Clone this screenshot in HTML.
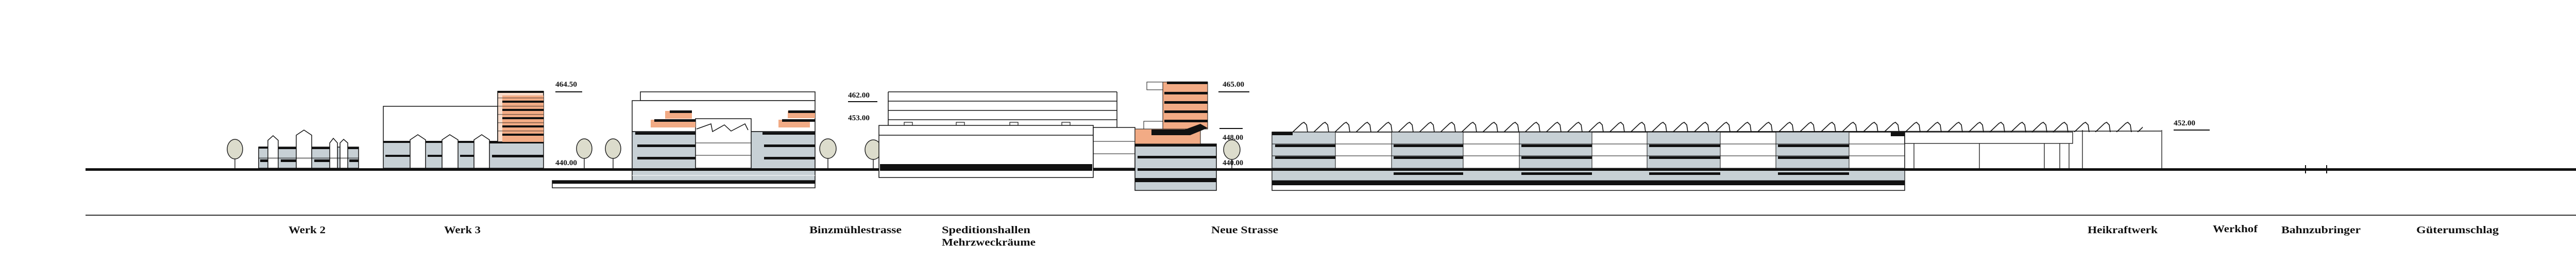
<!DOCTYPE html>
<html><head><meta charset="utf-8"><style>
html,body{margin:0;padding:0;background:#fff;}
svg{display:block;}
text{font-family:"Liberation Serif",serif;font-weight:bold;fill:#111;}
</style></head><body>
<svg width="5192" height="531" viewBox="0 0 5192 531" xmlns="http://www.w3.org/2000/svg">
<defs>
<pattern id="saw" x="2507" y="234" width="41" height="23" patternUnits="userSpaceOnUse">
<path d="M2 22 L20 5 L24 3 L29 8 L31 22" fill="none" stroke="#111" stroke-width="1.6"/>
</pattern>
</defs>
<rect width="5192" height="531" fill="#fff"/>

<!-- ground line -->
<rect x="166" y="326" width="5024" height="5" fill="#111"/>
<!-- bottom datum line -->
<rect x="166" y="416" width="5024" height="2" fill="#333"/>

<!-- trees -->
<g fill="#dcdccc" stroke="#222" stroke-width="1.5">
<ellipse cx="456" cy="289" rx="15" ry="19"/><line x1="456" y1="308" x2="456" y2="326"/>
<ellipse cx="1134" cy="288" rx="15" ry="19"/><line x1="1134" y1="307" x2="1134" y2="326"/>
<ellipse cx="1190" cy="288" rx="15" ry="19"/><line x1="1190" y1="307" x2="1190" y2="326"/>
<ellipse cx="1607" cy="288" rx="16" ry="19"/><line x1="1607" y1="307" x2="1607" y2="326"/>
<ellipse cx="1695" cy="290" rx="16" ry="19"/><line x1="1695" y1="309" x2="1695" y2="326"/>
<ellipse cx="2391" cy="290" rx="16" ry="19"/><line x1="2391" y1="309" x2="2391" y2="326"/>
</g>

<!-- Werk 2 -->
<g stroke="#111" stroke-width="1.5">
<rect x="502" y="285" width="194" height="41" fill="#c7d0d5"/>
<path d="M520 326 L520 272 L530 263 L540 272 L540 326 Z" fill="#fff"/>
<path d="M575 326 L575 262 L590 252 L605 262 L605 326 Z" fill="#fff"/>
<path d="M640 326 L640 277 L647 268 L655 277 L655 326 Z" fill="#fff"/>
<path d="M660 326 L660 277 L667 270 L675 277 L675 326 Z" fill="#fff"/>
</g>
<g fill="#111">
<rect x="502" y="284" width="18" height="4"/><rect x="540" y="285" width="35" height="4"/><rect x="605" y="285" width="35" height="4"/><rect x="675" y="285" width="21" height="4"/>
<rect x="502" y="305" width="194" height="3" opacity="0.4"/>
<rect x="505" y="309" width="15" height="5"/><rect x="545" y="309" width="30" height="5"/><rect x="610" y="309" width="30" height="5"/><rect x="678" y="309" width="18" height="5"/>
</g>

<!-- Werk 3 -->
<rect x="744" y="206" width="222" height="69" fill="#fff" stroke="#111" stroke-width="1.5"/>
<rect x="744" y="275" width="311" height="51" fill="#c7d0d5" stroke="#111" stroke-width="1.5"/>
<g fill="#fff" stroke="#111" stroke-width="1.5">
<path d="M796 326 L796 271 L811 261 L826 271 L826 326 Z"/>
<path d="M858 326 L858 271 L873 261 L889 271 L889 326 Z"/>
<path d="M920 326 L920 271 L935 261 L950 271 L950 326 Z"/>
</g>
<g fill="#111">
<rect x="744" y="273" width="52" height="4"/><rect x="826" y="273" width="32" height="4"/><rect x="889" y="273" width="31" height="4"/><rect x="950" y="273" width="105" height="5"/>
<rect x="748" y="300" width="48" height="4"/><rect x="830" y="300" width="28" height="4"/><rect x="893" y="300" width="27" height="4"/><rect x="955" y="300" width="100" height="5"/>
</g>
<rect x="966" y="177" width="89" height="98" fill="#f9dccb" stroke="#111" stroke-width="1.5"/>
<g fill="#f2ab85"><rect x="975" y="185" width="80" height="90"/></g>
<g fill="#111">
<rect x="966" y="176" width="89" height="4"/>
<rect x="975" y="195" width="80" height="4"/><rect x="975" y="211" width="80" height="4"/><rect x="975" y="227" width="80" height="4"/><rect x="975" y="243" width="80" height="4"/><rect x="975" y="259" width="80" height="4"/>
<rect x="966" y="189" width="89" height="1.5" opacity="0.5"/><rect x="966" y="205" width="89" height="1.5" opacity="0.5"/><rect x="966" y="221" width="89" height="1.5" opacity="0.5"/><rect x="966" y="237" width="89" height="1.5" opacity="0.5"/><rect x="966" y="253" width="89" height="1.5" opacity="0.5"/>
</g>
<text x="1078" y="168" font-size="15" textLength="42" lengthAdjust="spacingAndGlyphs">464.50</text>
<rect x="1078" y="177" width="52" height="2" fill="#111"/>
<text x="1078" y="320" font-size="15" textLength="42" lengthAdjust="spacingAndGlyphs">440.00</text>

<!-- underground box Binzmuehle -->
<rect x="1072" y="350" width="510" height="14" fill="#fff" stroke="#111" stroke-width="1.5"/>
<rect x="1072" y="350" width="510" height="6" fill="#111"/>

<!-- Binzmuehle building -->
<rect x="1243" y="178" width="339" height="17" fill="#fff" stroke="#111" stroke-width="1.5"/>
<rect x="1227" y="195" width="355" height="60" fill="#fff" stroke="#111" stroke-width="1.5"/>
<rect x="1227" y="255" width="355" height="95" fill="#c7d0d5" stroke="#111" stroke-width="1.5"/>
<rect x="1350" y="230" width="108" height="96" fill="#fff" stroke="#111" stroke-width="1.5"/>
<path d="M1352 250 L1380 240 L1383 255 L1406 242 L1419 254 L1446 240 L1452 252" fill="none" stroke="#111" stroke-width="1.5"/>
<line x1="1350" y1="277" x2="1458" y2="277" stroke="#111"/><line x1="1350" y1="301" x2="1458" y2="301" stroke="#111"/>
<rect x="1291" y="215" width="52" height="15" fill="#f2ab85"/><rect x="1263" y="232" width="87" height="15" fill="#f2ab85"/>
<rect x="1529" y="215" width="53" height="14" fill="#f2ab85"/><rect x="1511" y="232" width="61" height="15" fill="#f2ab85"/>
<g fill="#111">
<rect x="1300" y="214" width="43" height="5"/><rect x="1270" y="231" width="80" height="5"/>
<rect x="1530" y="214" width="52" height="5"/><rect x="1518" y="231" width="64" height="5"/>
<rect x="1233" y="256" width="117" height="5"/><rect x="1480" y="256" width="102" height="5"/>
<rect x="1237" y="280" width="113" height="5"/><rect x="1483" y="280" width="99" height="5"/>
<rect x="1237" y="304" width="113" height="5"/><rect x="1483" y="304" width="99" height="5"/>
<rect x="1227" y="326" width="355" height="5"/>
</g>
<line x1="1227" y1="340" x2="1582" y2="340" stroke="#fff" stroke-width="1"/>

<!-- Speditionshallen -->
<text x="1646" y="189" font-size="15" textLength="42" lengthAdjust="spacingAndGlyphs">462.00</text>
<rect x="1646" y="196" width="57" height="2" fill="#111"/>
<text x="1646" y="233" font-size="15" textLength="42" lengthAdjust="spacingAndGlyphs">453.00</text>
<g stroke="#111" stroke-width="1.5" fill="none">
<line x1="1724" y1="178" x2="2168" y2="178"/><line x1="1724" y1="196" x2="2168" y2="196"/>
<line x1="1724" y1="214" x2="2168" y2="214"/><line x1="1724" y1="232" x2="2168" y2="232"/>
<line x1="1724" y1="178" x2="1724" y2="243"/><line x1="2168" y1="178" x2="2168" y2="248"/>
</g>
<g fill="#fff" stroke="#111" stroke-width="1.2">
<rect x="1755" y="237" width="16" height="6"/><rect x="1856" y="237" width="16" height="6"/><rect x="1960" y="237" width="16" height="6"/><rect x="2061" y="237" width="16" height="6"/>
</g>
<rect x="1706" y="243" width="416" height="101" fill="#fff" stroke="#111" stroke-width="1.5"/>
<line x1="1706" y1="262" x2="2122" y2="262" stroke="#111" stroke-width="1.5"/>
<rect x="1708" y="318" width="412" height="13" fill="#111"/>
<rect x="2122" y="247" width="81" height="79" fill="#fff" stroke="#111" stroke-width="1.5"/>
<line x1="2122" y1="274" x2="2203" y2="274" stroke="#111"/><line x1="2122" y1="298" x2="2203" y2="298" stroke="#111"/>

<!-- Neue Strasse building -->
<rect x="2203" y="279" width="158" height="90" fill="#c7d0d5" stroke="#111" stroke-width="1.5"/>
<rect x="2203" y="250" width="127" height="29" fill="#f2ab85" stroke="#111" stroke-width="1"/>
<rect x="2257" y="159" width="87" height="91" fill="#f2ab85" stroke="#111" stroke-width="1"/>
<rect x="2226" y="159" width="31" height="15" fill="#fff" stroke="#111"/>
<rect x="2220" y="235" width="37" height="15" fill="#fff" stroke="#111"/>
<g fill="#111">
<rect x="2265" y="158" width="79" height="5"/><rect x="2260" y="178" width="84" height="5"/><rect x="2260" y="196" width="84" height="5"/><rect x="2260" y="214" width="84" height="5"/><rect x="2260" y="232" width="84" height="5"/>
<path d="M2235 251 L2300 251 L2330 240 L2344 248 L2310 262 L2235 262 Z"/>
<rect x="2203" y="279" width="158" height="5"/><rect x="2208" y="302" width="153" height="5"/><rect x="2208" y="326" width="153" height="5"/><rect x="2203" y="345" width="158" height="8"/>
</g>
<text x="2373" y="168" font-size="15" textLength="42" lengthAdjust="spacingAndGlyphs">465.00</text>
<rect x="2365" y="177" width="60" height="2" fill="#111"/>
<rect x="2367" y="248" width="45" height="2" fill="#111"/>
<text x="2373" y="271" font-size="15" textLength="40" lengthAdjust="spacingAndGlyphs">448.00</text>
<text x="2373" y="320" font-size="15" textLength="40" lengthAdjust="spacingAndGlyphs">440.00</text>

<!-- long building -->
<rect x="2507" y="234" width="1652" height="22" fill="url(#saw)"/>
<rect x="2469" y="256" width="1228" height="113" fill="#fff" stroke="#111" stroke-width="1.5"/>
<line x1="2469" y1="256" x2="4195" y2="254" stroke="#111" stroke-width="1.5"/>
<g fill="#c7d0d5" stroke="#111" stroke-width="1">
<rect x="2469" y="256" width="123" height="94"/><rect x="2701" y="256" width="139" height="94"/><rect x="2949" y="256" width="141" height="94"/><rect x="3197" y="256" width="142" height="94"/><rect x="3447" y="256" width="142" height="94"/>
<rect x="2469" y="326" width="1228" height="24"/>
</g>
<g stroke="#111" stroke-width="1"><line x1="2469" y1="279" x2="3697" y2="279"/><line x1="2469" y1="302" x2="3697" y2="302"/></g>
<g fill="#111">
<rect x="2469" y="256" width="40" height="6"/>
<rect x="2475" y="280" width="117" height="5"/><rect x="2705" y="280" width="135" height="5"/><rect x="2953" y="280" width="137" height="5"/><rect x="3201" y="280" width="138" height="5"/><rect x="3451" y="280" width="138" height="5"/>
<rect x="2475" y="303" width="117" height="5"/><rect x="2705" y="303" width="135" height="5"/><rect x="2953" y="303" width="137" height="5"/><rect x="3201" y="303" width="138" height="5"/><rect x="3451" y="303" width="138" height="5"/>
<rect x="2469" y="326" width="1228" height="5"/>
<rect x="2705" y="334" width="135" height="5"/><rect x="2953" y="334" width="137" height="5"/><rect x="3201" y="334" width="138" height="5"/><rect x="3451" y="334" width="138" height="5"/>
<rect x="2469" y="350" width="1228" height="9"/>
<rect x="3670" y="256" width="27" height="8"/>
</g>

<!-- Heikraftwerk structure -->
<g stroke="#111" stroke-width="1.3" fill="none">
<rect x="3697" y="256" width="326" height="22"/>
<line x1="3715" y1="278" x2="3715" y2="326"/><line x1="3842" y1="278" x2="3842" y2="326"/><line x1="3968" y1="278" x2="3968" y2="326"/><line x1="3998" y1="278" x2="3998" y2="326"/><line x1="4016" y1="278" x2="4016" y2="326"/>
<line x1="4042" y1="252" x2="4042" y2="326"/><line x1="4196" y1="252" x2="4196" y2="326"/>
</g>
<text x="4219" y="243" font-size="15" textLength="42" lengthAdjust="spacingAndGlyphs">452.00</text>
<rect x="4219" y="251" width="70" height="2" fill="#111"/>
<rect x="4474" y="320" width="2" height="16" fill="#111"/><rect x="4515" y="320" width="2" height="16" fill="#111"/>
<text x="5127" y="408" font-size="15" textLength="38" lengthAdjust="spacingAndGlyphs">425.0</text>

<!-- labels -->
<g font-size="20">
<text x="560" y="452" textLength="72" lengthAdjust="spacingAndGlyphs">Werk 2</text>
<text x="862" y="452" textLength="71" lengthAdjust="spacingAndGlyphs">Werk 3</text>
<text x="1571" y="452" textLength="179" lengthAdjust="spacingAndGlyphs">Binzmühlestrasse</text>
<text x="1828" y="452" textLength="172" lengthAdjust="spacingAndGlyphs">Speditionshallen</text>
<text x="1828" y="476" textLength="182" lengthAdjust="spacingAndGlyphs">Mehrzweckräume</text>
<text x="2351" y="452" textLength="130" lengthAdjust="spacingAndGlyphs">Neue Strasse</text>
<text x="4052" y="452" textLength="136" lengthAdjust="spacingAndGlyphs">Heikraftwerk</text>
<text x="4295" y="450" textLength="87" lengthAdjust="spacingAndGlyphs">Werkhof</text>
<text x="4428" y="452" textLength="154" lengthAdjust="spacingAndGlyphs">Bahnzubringer</text>
<text x="4690" y="452" textLength="160" lengthAdjust="spacingAndGlyphs">Güterumschlag</text>
</g>
</svg>
</body></html>
